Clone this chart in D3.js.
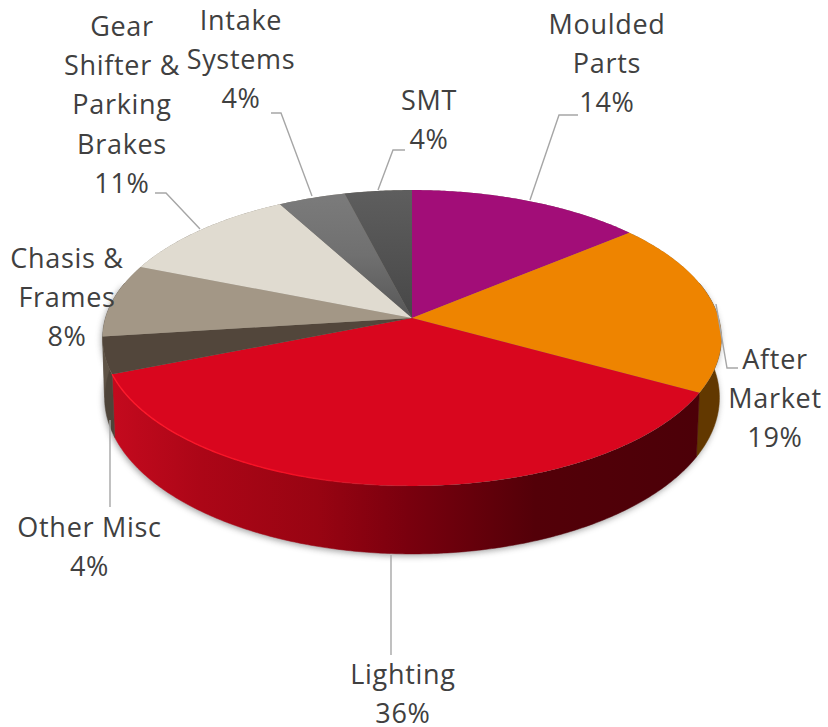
<!DOCTYPE html>
<html><head><meta charset="utf-8">
<script src="https://cdn.jsdelivr.net/npm/d3@7/dist/d3.min.js"></script>
<style>html,body{margin:0;padding:0;background:#fff}svg{display:block}</style></head>
<body><svg id="c" width="828" height="727"></svg>
<script>
const categories = ["Moulded Parts","After Market","Lighting","Other Misc","Chasis & Frames","Gear Shifter & Parking Brakes","Intake Systems","SMT"];
const values = [14,19,36,4,8,11,4,4];
const tickLabels = ["14%","19%","36%","4%","8%","11%","4%","4%"];
const topColors = ["#a20d78","#ee8400","#d9061e","#52463b","#a39786","#e0dbd0","#747474","#565656"];
const sideColors = ["#5e0540","#623800","url(#wallRed)","#4e4439","#5e5346","#7a766e","#444","#333"];
const labelLines = [["Moulded","Parts"],["After","Market"],["Lighting"],["Other Misc"],["Chasis &","Frames"],["Gear","Shifter &","Parking","Brakes"],["Intake","Systems"],["SMT"]];
const labelAnchor = [[607,34],[775,369],[403,684],[89.5,537],[67,268],[122,36],[241,30],[429,110]];
const leaders = [[[530,200],[559,115],[578,115]],[[716,304],[727,368],[738,368]],[[391,555],[391,655]],[[110,420],[110,507]],[],[[200,229],[166,193],[155,193]],[[312,196],[281,113],[271,113]],[[378,190],[393,150],[405,150]]];

const svg = d3.select("#c"), defs = svg.append("defs");
// projective view of the pie's top and bottom discs
const cx = 412;
const topDisc = {A:306.5,Y0:318,a:102.3,c:-0.135};
const botDisc = {A:305,Y0:378,a:106.7,c:-0.125};
const project = (t,d) => { const u=Math.sin(t), v=-Math.cos(t), w=1+d.c*v; return [cx+d.A*u/w,(d.Y0+d.a*v)/w]; };
const sweep = (a,b) => { const n=Math.max(2,Math.ceil((b-a)/0.01)); return d3.range(n+1).map(i=>a+(b-a)*i/n); };
const line = d3.line();
const arcs = d3.pie().sort(null).value(d=>d)(values);

const blur = defs.append("filter").attr("id","soft").attr("x","-10%").attr("y","-10%").attr("width","120%").attr("height","130%");
blur.append("feGaussianBlur").attr("stdDeviation",3);
const edge = defs.append("filter").attr("id","edge").attr("x","-5%").attr("y","-5%").attr("width","110%").attr("height","110%");
edge.append("feGaussianBlur").attr("stdDeviation",0.6);

const grad=(id,x1,y1,x2,y2,stops)=>{const g=defs.append("linearGradient").attr("id",id).attr("gradientUnits","userSpaceOnUse")
  .attr("x1",x1).attr("y1",y1).attr("x2",x2).attr("y2",y2);
  stops.forEach(s=>g.append("stop").attr("offset",s[0]).attr("stop-color",s[1]).attr("stop-opacity",s[2]===undefined?1:s[2]));};
grad("wallRed",112,0,700,0,[[0,"#c40a1e"],[0.15,"#ac0617"],[0.35,"#980412"],[0.5,"#7a000e"],[0.72,"#530008"],[1,"#4c0008"]]);
grad("gIntake",0,200,0,310,[[0,"#7a7a7a"],[0.5,"#707070"],[1,"#5a5a5a"]]);
grad("gSmt",0,190,0,318,[[0,"#5e5e5e"],[1,"#474747"]]);
grad("rim",112,0,420,0,[[0,"#ff1a2c",1],[0.6,"#f50f24",1],[1,"#d9061e",0]]);
const fills = topColors.map((c,i)=> i===6?"url(#gIntake)":i===7?"url(#gSmt)":c);

const wallPath = (a,b) => { const s=sweep(a,b); return line(s.map(t=>project(t,topDisc)).concat(s.slice().reverse().map(t=>project(t,botDisc))))+"Z"; };
const lo = Math.PI*0.42, hi = Math.PI*1.58;

// soft shadow below the wall
svg.append("path").attr("d",wallPath(lo,hi)).attr("fill","#555").attr("opacity",0.55)
  .attr("transform","translate(-1,2)").attr("filter","url(#soft)");
// walls
svg.append("g").selectAll("path").data(arcs).join("path")
  .filter(d=>d.endAngle>lo && d.startAngle<hi)
  .attr("d",d=>wallPath(Math.max(d.startAngle,lo),Math.min(d.endAngle,hi)))
  .attr("fill",d=>sideColors[d.index]).attr("stroke",d=>sideColors[d.index]).attr("stroke-width",0.5);
// top disc
const wedge = d => line([[cx,topDisc.Y0]].concat(sweep(d.startAngle,d.endAngle).map(t=>project(t,topDisc))))+"Z";
svg.append("path").attr("d",line(sweep(0,2*Math.PI).map(t=>project(t,topDisc)))+"Z").attr("fill","#8a8378").attr("filter","url(#edge)");
svg.append("g").selectAll("path").data(arcs).join("path").attr("d",wedge).attr("fill",d=>fills[d.index]);
// front rim highlight on the largest slice
const big = arcs[2];
svg.append("path").attr("d",line(sweep(big.startAngle,big.endAngle).map(t=>project(t,topDisc)))).attr("fill","none")
  .attr("stroke","url(#rim)").attr("stroke-width",1.4);

// leader lines
svg.append("g").selectAll("path").data(leaders.filter(l=>l.length)).join("path")
  .attr("d",l=>line(l)).attr("fill","none").attr("stroke","#a6a6a6").attr("stroke-width",1.4);
// labels
const lh = 39.2;
const lab = svg.append("g").attr("font-family","'Open Sans'").attr("font-size",27).attr("letter-spacing",0.7).attr("fill","#404040").attr("text-anchor","middle");
categories.forEach((c,i)=>{
  const rows = labelLines[i].concat([tickLabels[i]]);
  const t = lab.append("text").attr("data-category",c);
  rows.forEach((r,j)=>t.append("tspan").attr("x",labelAnchor[i][0]).attr("y",labelAnchor[i][1]+j*lh).text(r));
});
</script></body></html>
